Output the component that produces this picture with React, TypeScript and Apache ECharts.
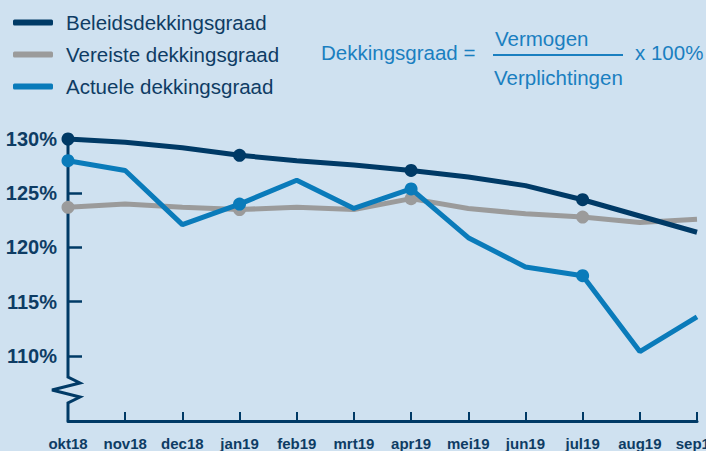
import React, { useEffect, useRef } from "react";
import * as echarts from "echarts";

const months = ["okt18", "nov18", "dec18", "jan19", "feb19", "mrt19", "apr19", "mei19", "jun19", "jul19", "aug19", "sep19"];
const beleids = [130.0, 129.7, 129.2, 128.5, 128.0, 127.6, 127.1, 126.5, 125.7, 124.4, 122.9, 121.4];
const vereiste = [123.7, 124.0, 123.7, 123.5, 123.7, 123.5, 124.5, 123.6, 123.1, 122.8, 122.3, 122.6];
const actuele = [128.0, 127.1, 122.1, 124.0, 126.2, 123.6, 125.4, 120.9, 118.2, 117.4, 110.4, 113.6];
const yLabels = [110, 115, 120, 125, 130];
const yTicks = [110, 115, 120, 125];

const NAVY = "#003a66";
const GRAY = "#9b9b9b";
const BLUE = "#0a7bba";
const TEXT = "#0e3c64";
const FORM = "#1a7fc0";
const BG = "#cfe1f0";
const FONT = "Liberation Sans, Arial, sans-serif";

export default function App() {
  const ref = useRef<HTMLDivElement>(null);
  useEffect(() => {
    const chart = echarts.init(ref.current!, null, { renderer: "svg" });
    const sym = (_v: any, p: any) => (p.dataIndex % 3 === 0 ? "circle" : "none");
    const mk = (name: string, data: number[], color: string, z: number) => ({
      name,
      type: "line",
      data,
      z,
      symbol: sym,
      symbolSize: 13,
      showSymbol: true,
      lineStyle: { color, width: 5 },
      itemStyle: { color },
      emphasis: { disabled: true },
    });
    const ftxt = (text: string, x: number, y: number) => ({
      type: "text",
      x,
      y,
      style: { text, fill: FORM, font: `20.5px ${FONT}`, verticalAlign: "middle", align: "left" },
    });
    chart.setOption({
      animation: false,
      backgroundColor: BG,
      textStyle: { fontFamily: FONT },
      legend: {
        orient: "vertical",
        left: 8,
        top: 7,
        itemWidth: 40,
        itemHeight: 6,
        itemGap: 11,
        icon: "roundRect",
        data: ["Beleidsdekkingsgraad", "Vereiste dekkingsgraad", "Actuele dekkingsgraad"],
        textStyle: { color: TEXT, fontSize: 20.5, fontFamily: FONT, padding: [0, 0, 0, 8] },
      },
      grid: { left: 68, right: 9, top: 139, bottom: 30, outerBoundsMode: "none", containLabel: false },
      xAxis: {
        type: "category",
        data: months,
        boundaryGap: false,
        axisLine: { lineStyle: { color: NAVY, width: 3 } },
        axisTick: { inside: true, length: 9, interval: 0, lineStyle: { color: NAVY, width: 2 } },
        axisLabel: { interval: 0, color: TEXT, fontWeight: "bold", fontSize: 15, margin: 15, fontFamily: FONT, hideOverlap: false },
        splitLine: { show: false },
      },
      yAxis: {
        type: "value",
        min: 104,
        max: 130,
        axisLine: { show: false },
        axisTick: { show: true, inside: true, length: 14, customValues: yTicks, lineStyle: { color: NAVY, width: 2.5 } },
        axisLabel: {
          customValues: yLabels,
          formatter: (v: number) => v + "%",
          color: TEXT,
          fontWeight: "bold",
          fontSize: 20,
          margin: 11,
          fontFamily: FONT,
        },
        splitLine: { show: false },
      },
      graphic: [
        {
          type: "polyline",
          z: 1,
          shape: { points: [[68, 139], [68, 377], [80, 383], [52, 390], [80, 397], [68, 403], [68, 421]] },
          style: { stroke: NAVY, lineWidth: 3, fill: "none" },
        },
        ftxt("Dekkingsgraad =", 321, 52),
        ftxt("Vermogen", 495, 38),
        { type: "line", shape: { x1: 493, y1: 55, x2: 623, y2: 55 }, style: { stroke: FORM, lineWidth: 2 } },
        ftxt("Verplichtingen", 494, 77),
        ftxt("x 100%", 635, 52),
      ],
      series: [
        mk("Vereiste dekkingsgraad", vereiste, GRAY, 2),
        mk("Actuele dekkingsgraad", actuele, BLUE, 3),
        mk("Beleidsdekkingsgraad", beleids, NAVY, 4),
      ],
    });
    return () => chart.dispose();
  }, []);
  return <div ref={ref} style={{ width: 706, height: 451, position: "fixed", left: 0, top: 0 }} />;
}
